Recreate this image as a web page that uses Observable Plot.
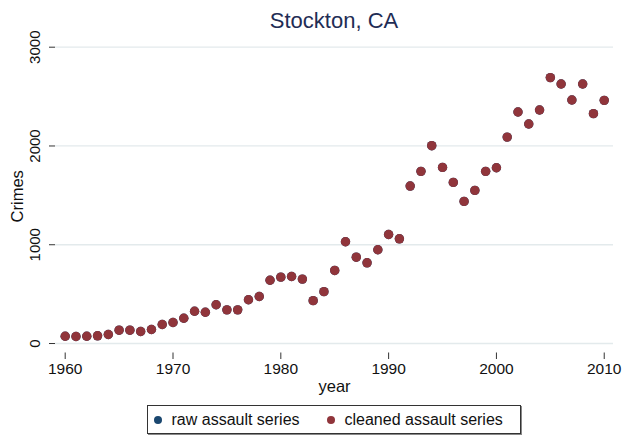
<!DOCTYPE html>
<html>
<head>
<meta charset="utf-8">
<script src="https://cdn.jsdelivr.net/npm/d3@7"></script>
<script src="https://cdn.jsdelivr.net/npm/@observablehq/plot@0.6"></script>
<style>
  html, body { margin: 0; padding: 0; background: #ffffff; }
  #wrap { position: relative; width: 625px; height: 437px; font-family: "Liberation Sans", Arial, Helvetica, sans-serif; }
  #title { position: absolute; left: 55px; width: 558px; top: 9.5px; line-height: 22px; text-align: center; font-size: 22px; color: #1f2d55; }
  #chart { position: absolute; left: 0; top: 0; }
  #legend { position: absolute; left: 147px; top: 405px; width: 374px; height: 29px; border: 1px solid #333; box-shadow: 1px 1px 0 #888; box-sizing: border-box; font-size: 16px; color: #111; }
  .item { position: absolute; top: 0; height: 27px; line-height: 27px; white-space: nowrap; }
  .sw { display: inline-block; width: 8px; height: 8px; border-radius: 50%; vertical-align: middle; margin-right: 9.5px; position: relative; top: -1px; }
</style>
</head>
<body>
<div id="wrap">
  <div id="chart"></div>
  <div id="title">Stockton, CA</div>
  <div id="legend"></div>
</div>
<script>
const years = [1960,1961,1962,1963,1964,1965,1966,1967,1968,1969,
               1970,1971,1972,1973,1974,1975,1976,1977,1978,1979,
               1980,1981,1982,1983,1984,1985,1986,1987,1988,1989,
               1990,1991,1992,1993,1994,1995,1996,1997,1998,1999,
               2000,2001,2002,2003,2004,2005,2006,2007,2008,2009,2010];
const rawAssault = [74,71,74,78,91,135,135,122,142,193,
                    213,256,327,317,392,341,341,443,476,641,
                    672,679,652,434,525,740,1030,874,817,949,
                    1104,1060,1594,1743,2003,1783,1631,1439,1550,1743,
                    1780,2090,2344,2222,2364,2692,2627,2465,2627,2327,2462];
const cleanedAssault = [74,71,74,78,91,135,135,122,142,193,
                        213,256,327,317,392,341,341,443,476,641,
                        672,679,652,434,525,740,1030,874,817,949,
                        1104,1060,1594,1743,2003,1783,1631,1439,1550,1743,
                        1780,2090,2344,2222,2364,2692,2627,2465,2627,2327,2462];
const xTicks = [1960,1970,1980,1990,2000,2010];
const yTicks = [0,1000,2000,3000];
const seriesNames = ["raw assault series","cleaned assault series"];
const seriesColors = ["#1a476f","#90353b"];

const rows = years.map((yr,i) => ({year: yr, raw: rawAssault[i], cleaned: cleanedAssault[i]}));
const font = '"Liberation Sans", Arial, Helvetica, sans-serif';

const chart = Plot.plot({
  width: 625,
  height: 437,
  marginLeft: 55,
  marginRight: 12,
  marginTop: 46.7,
  marginBottom: 84.5,
  style: {fontFamily: font, background: "transparent", color: "#222"},
  x: {domain: [1959.1, 2010.86]},
  y: {domain: [-96, 3000]},
  marks: [
    Plot.gridY(yTicks, {stroke: "#e3eaec", strokeOpacity: 1, strokeWidth: 1.3}),
    Plot.axisY(yTicks, {tickSize: 6, tickFormat: () => "", label: null, stroke: "#333"}),
    Plot.text(yTicks, {frameAnchor: "left", y: d => d, text: d => String(d), rotate: -90, dx: -20, fontSize: 15, fill: "#111", lineAnchor: "middle", textAnchor: "middle"}),
    Plot.axisX(xTicks, {tickSize: 6.5, tickPadding: 3, fontSize: 15.5, tickFormat: d => String(d), label: null, stroke: "#333", fill: "#111"}),
    Plot.text(["year"], {frameAnchor: "bottom", text: d => d, dy: 33.5, fontSize: 16.5, fill: "#111", lineAnchor: "middle", textAnchor: "middle"}),
    Plot.text(["Crimes"], {frameAnchor: "left", text: d => d, rotate: -90, dx: -38, dy: 195.8 - (46.7 + 352.5) / 2, fontSize: 16.5, fill: "#111", lineAnchor: "middle", textAnchor: "middle"}),
    Plot.dot(rows, {x: "year", y: "raw", r: 4.7, fill: seriesColors[0], stroke: "none"}),
    Plot.dot(rows, {x: "year", y: "cleaned", r: 4.7, fill: seriesColors[1], stroke: "none"})
  ]
});
document.getElementById("chart").appendChild(chart);

const legend = document.getElementById("legend");
const lefts = [6, 179];
seriesNames.forEach((name, i) => {
  const it = document.createElement("div");
  it.className = "item";
  it.style.left = lefts[i] + "px";
  it.innerHTML = `<span class="sw" style="background:${seriesColors[i]}"></span>${name}`;
  legend.appendChild(it);
});
</script>
</body>
</html>
